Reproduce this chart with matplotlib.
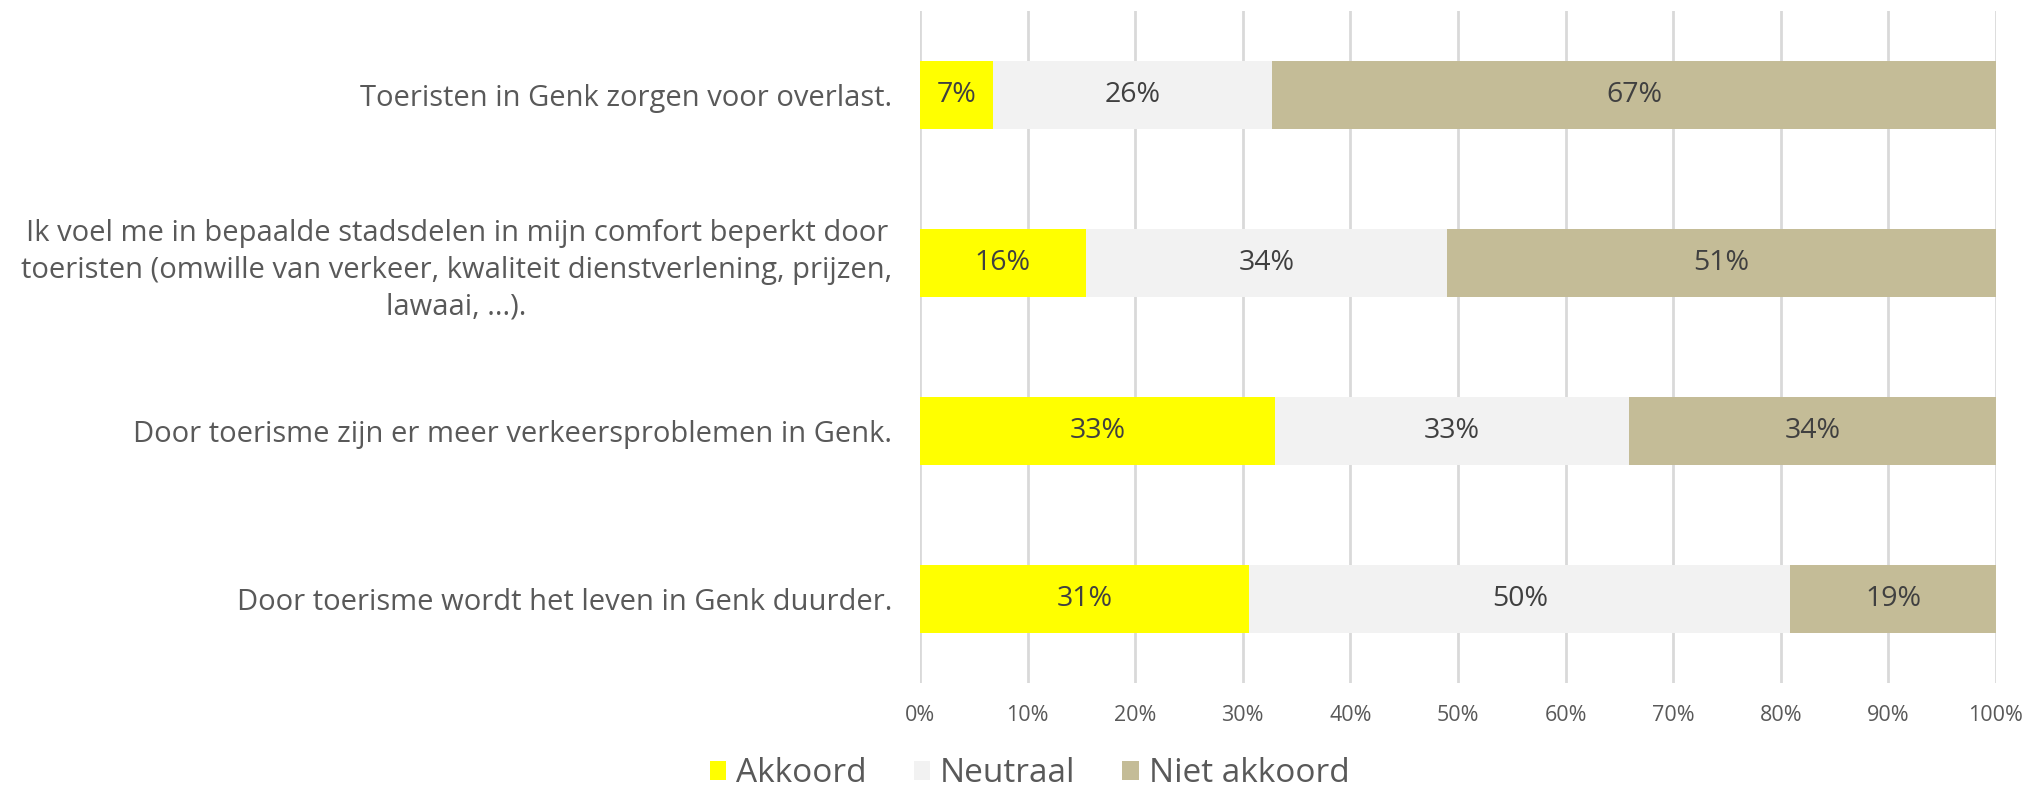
import matplotlib
matplotlib.use("Agg")
import matplotlib.pyplot as plt
import numpy as np

categories = [
    "Toeristen in Genk zorgen voor overlast.",
    "Ik voel me in bepaalde stadsdelen in mijn comfort beperkt door\ntoeristen (omwille van verkeer, kwaliteit dienstverlening, prijzen,\nlawaai, ...).",
    "Door toerisme zijn er meer verkeersproblemen in Genk.",
    "Door toerisme wordt het leven in Genk duurder.",
]
akkoord = [6.8, 15.4, 33.0, 30.6]
neutraal = [25.9, 33.6, 32.9, 50.3]
niet_akkoord = [67.3, 51.0, 34.1, 19.1]
label_akkoord = ["7%", "16%", "33%", "31%"]
label_neutraal = ["26%", "34%", "33%", "50%"]
label_niet = ["67%", "51%", "34%", "19%"]
series_names = ["Akkoord", "Neutraal", "Niet akkoord"]
colors = ["#FFFF00", "#F2F2F2", "#C4BC97"]
xticks = [0, 10, 20, 30, 40, 50, 60, 70, 80, 90, 100]

plt.rcParams['font.family'] = ['Open Sans', 'DejaVu Sans']
txt = "#595959"

fig = plt.figure(figsize=(20.39, 7.91), dpi=100)
ax = fig.add_axes([0.4512, 0.1365, 0.9789 - 0.4512, 0.9861 - 0.1365])

y = np.arange(len(categories))
h = 0.4
left = np.zeros(len(categories))
all_labels = [label_akkoord, label_neutraal, label_niet]
for vals, col, name, labs in zip([akkoord, neutraal, niet_akkoord], colors, series_names, all_labels):
    bars = ax.barh(y, vals, left=left, height=h, color=col, label=name, zorder=3)
    for b, lab, v, l in zip(bars, labs, vals, left):
        ax.text(l + v / 2, b.get_y() + b.get_height() / 2, lab, ha="center", va="center",
                fontsize=20.5, color="#404040", zorder=4)
    left = left + np.array(vals)

ax.set_xlim(0, 100)
ax.set_ylim(len(categories) - 0.5, -0.5)
ax.set_xticks(xticks)
ax.set_xticklabels([f"{t}%" for t in xticks], fontsize=15.5, color=txt)
ax.set_yticks(y)
ax.set_yticklabels(categories, fontsize=21, color=txt, ha="right", multialignment="center",
                   linespacing=1.35)
ax.tick_params(axis="y", length=0, pad=20)
ax.tick_params(axis="x", length=0, pad=16)
ax.grid(axis="x", color="#D9D9D9", linewidth=2, zorder=0)
for s in ax.spines.values():
    s.set_visible(False)

fig.legend(loc="center", bbox_to_anchor=(0.505, 0.022), ncol=3, frameon=False,
           fontsize=24, labelcolor=txt, handlelength=0.5, handleheight=0.5,
           handletextpad=0.3, columnspacing=1.4)

fig.savefig("out.png", dpi=100)
